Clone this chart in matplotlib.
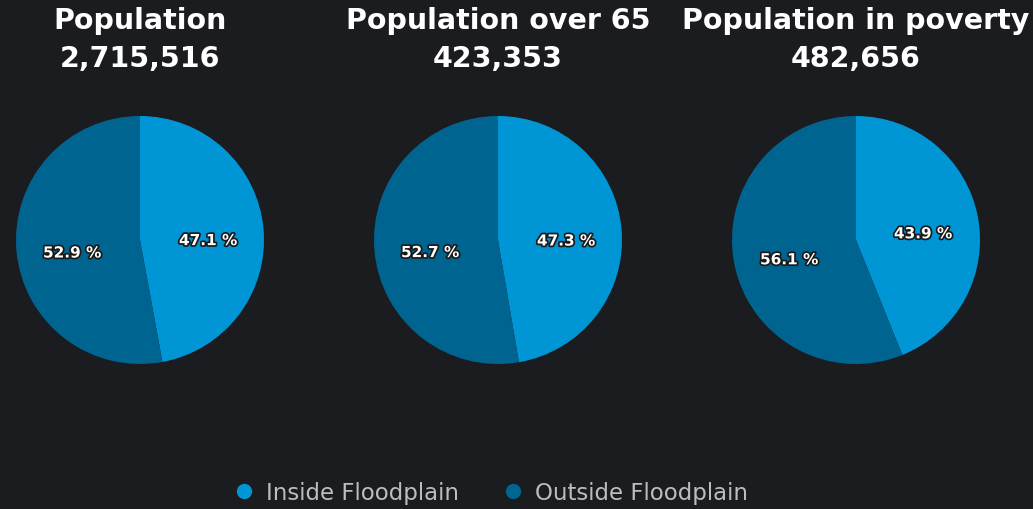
import matplotlib
matplotlib.use("Agg")
import matplotlib.pyplot as plt
import matplotlib.patheffects as pe
from matplotlib.lines import Line2D

# Data
titles = ["Population", "Population over 65", "Population in poverty"]
totals = ["2,715,516", "423,353", "482,656"]
inside_pct = [47.1, 47.3, 43.9]
outside_pct = [52.9, 52.7, 56.1]
legend_labels = ["Inside Floodplain", "Outside Floodplain"]

W, H = 1033, 510
bg = "#1b1c20"
c_inside = "#0096d6"
c_outside = "#006491"

plt.rcParams["font.family"] = ["DejaVu Sans"]

fig = plt.figure(figsize=(W / 100, H / 100), dpi=100, facecolor=bg)

centers_x = [140, 498, 856]
cy, r = 241, 124

for i in range(3):
    cx = centers_x[i]
    ax = fig.add_axes([(cx - r) / W, (H - cy - r) / H, 2 * r / W, 2 * r / H])
    ax.set_facecolor(bg)
    wedges, texts = ax.pie(
        [inside_pct[i], outside_pct[i]],
        colors=[c_inside, c_outside],
        startangle=90,
        counterclock=False,
        labels=[f"{inside_pct[i]} %", f"{outside_pct[i]} %"],
        labeldistance=0.55,
        wedgeprops=dict(linewidth=0),
        textprops=dict(color="white", fontsize=11, fontweight="bold",
                       ha="center", va="center"),
    )
    for t in texts:
        x, y = t.get_position()
        t.set_position((x, y - 0.055))
        t.set_path_effects([pe.withStroke(linewidth=2.5, foreground="#1a1a1a")])
    ax.set_xlim(-1, 1)
    ax.set_ylim(-1, 1)
    ax.set_aspect("equal")
    ax.axis("off")

    fig.text(cx / W, 1 - 21 / H, titles[i], ha="center", va="center",
             color="white", fontsize=20.5, fontweight="bold")
    fig.text(cx / W, 1 - 59 / H, totals[i], ha="center", va="center",
             color="white", fontsize=20.5, fontweight="bold")

handles = [
    Line2D([0], [0], marker="o", linestyle="", markersize=11,
           markerfacecolor=c_inside, markeredgewidth=0),
    Line2D([0], [0], marker="o", linestyle="", markersize=11,
           markerfacecolor=c_outside, markeredgewidth=0),
]
leg = fig.legend(handles, legend_labels, loc="center",
                 bbox_to_anchor=(491 / W, 1 - 494 / H), ncol=2,
                 frameon=False, fontsize=16.5, handlelength=0.9,
                 handletextpad=0.5, columnspacing=1.9,
                 labelcolor="#bdbdbd")

fig.savefig("out.png", dpi=100, facecolor=bg)
